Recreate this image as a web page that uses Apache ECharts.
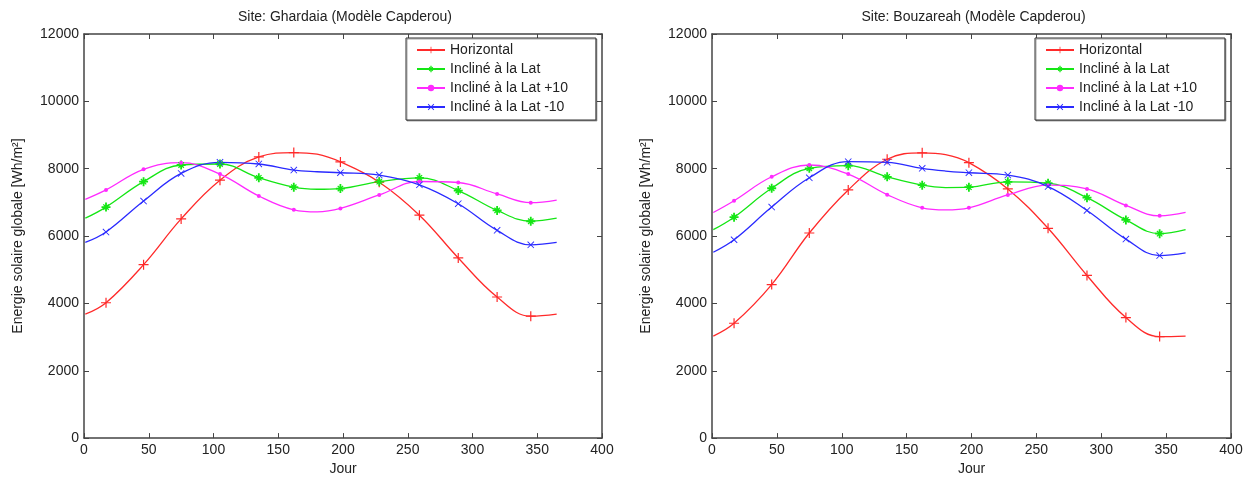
<!DOCTYPE html>
<html>
<head>
<meta charset="utf-8">
<script src="https://cdn.jsdelivr.net/npm/echarts@6/dist/echarts.min.js"></script>
<style>
html,body{margin:0;padding:0;background:#fff;}
#c{width:1256px;height:481px;}
</style>
</head>
<body>
<div id="c"></div>
<script>
// ---- data ----
const days       = [1, 17, 46, 75, 105, 135, 162, 180, 198, 228, 259, 289, 319, 345, 365];
const hasMarker  = [0, 1,  1,  1,  1,   1,   1,   0,   1,   1,   1,   1,   1,   1,   0];
const seriesNames = ['Horizontal', 'Incliné à la Lat', 'Incliné à la Lat +10', 'Incliné à la Lat -10'];
const titles = ['Site: Ghardaia (Modèle Capderou)', 'Site: Bouzareah (Modèle Capderou)'];
const xTicks = [0, 50, 100, 150, 200, 250, 300, 350, 400];
const yTicks = [0, 2000, 4000, 6000, 8000, 10000, 12000];

// Ghardaia
const gh_horizontal = [3680, 4020, 5150, 6510, 7660, 8350, 8480, 8430, 8200, 7600, 6620, 5350, 4190, 3620, 3680];
const gh_lat        = [6530, 6860, 7615, 8110, 8140, 7730, 7450, 7390, 7410, 7615, 7730, 7350, 6760, 6440, 6530];
const gh_latPlus10  = [7090, 7370, 7980, 8180, 7840, 7190, 6780, 6720, 6820, 7220, 7620, 7590, 7250, 6990, 7070];
const gh_latMinus10 = [5810, 6120, 7040, 7860, 8190, 8140, 7960, 7910, 7880, 7810, 7520, 6960, 6170, 5740, 5810];

// Bouzareah
const bz_horizontal = [3030, 3410, 4560, 6090, 7370, 8280, 8470, 8420, 8180, 7400, 6230, 4830, 3580, 3015, 3030];
const bz_lat        = [6190, 6560, 7420, 8010, 8090, 7760, 7510, 7440, 7450, 7610, 7570, 7140, 6480, 6070, 6190];
const bz_latPlus10  = [6700, 7050, 7760, 8110, 7840, 7230, 6840, 6780, 6840, 7220, 7510, 7400, 6910, 6600, 6700];
const bz_latMinus10 = [5520, 5890, 6860, 7730, 8210, 8190, 8010, 7930, 7880, 7810, 7470, 6760, 5910, 5420, 5500];

// ---- styles ----
const colors = ['#ff2a2a', '#14e614', '#ff2aff', '#2a2aff'];
const symbols = [
  'path://M4.4,0H5.6V10H4.4Z M0,4.4H10V5.6H0Z',
  'path://M4,0H6V10H4Z M0,4H10V6H0Z M1.5,2.5L2.5,1.5L8.5,7.5L7.5,8.5Z M7.5,1.5L8.5,2.5L2.5,8.5L1.5,7.5Z',
  'circle',
  'path://M0,0.9L0.9,0L10,9.1L9.1,10Z M9.1,0L10,0.9L0.9,10L0,9.1Z'
];
const symbolSizes = [10, 9, 4, 7];

const gridsDef = [
  {left: 84, top: 34, width: 518, height: 406},
  {left: 712, top: 34, width: 519, height: 406}
];
const sets = [
  [gh_horizontal, gh_lat, gh_latPlus10, gh_latMinus10],
  [bz_horizontal, bz_lat, bz_latPlus10, bz_latMinus10]
];

const axisColor = '#444';
const textColor = '#222';
const fontFamily = 'Liberation Sans, Arial, sans-serif';
const fs = 14;

const grid = [], xAxis = [], yAxis = [], series = [], legend = [], title = [];

gridsDef.forEach((g, gi) => {
  grid.push(Object.assign({containLabel: false}, g));
  const common = {
    axisLine: {show: true, onZero: false, lineStyle: {color: axisColor, width: 1.5}},
    axisTick: {show: true, inside: true, length: 5, lineStyle: {color: axisColor, width: 1}},
    splitLine: {show: false}
  };
  xAxis.push(Object.assign({
    type: 'value', gridIndex: gi, position: 'bottom',
    min: xTicks[0], max: xTicks[xTicks.length - 1], interval: 50,
    name: 'Jour', nameLocation: 'middle', nameGap: 22,
    nameTextStyle: {color: textColor, fontSize: fs, fontFamily},
    axisLabel: {color: textColor, fontSize: fs, fontFamily, margin: 5, formatter: v => String(v)}
  }, common));
  xAxis.push(Object.assign({
    type: 'value', gridIndex: gi, position: 'top',
    min: xTicks[0], max: xTicks[xTicks.length - 1], interval: 50,
    axisLabel: {show: false}
  }, common));
  yAxis.push(Object.assign({
    type: 'value', gridIndex: gi, position: 'left',
    min: yTicks[0], max: yTicks[yTicks.length - 1], interval: 2000,
    name: 'Energie solaire globale [Wh/m²]', nameLocation: 'middle', nameGap: 59,
    nameTextStyle: {color: textColor, fontSize: fs, fontFamily},
    axisLabel: {color: textColor, fontSize: fs, fontFamily, margin: 5, formatter: v => String(v)}
  }, common));
  yAxis.push(Object.assign({
    type: 'value', gridIndex: gi, position: 'right',
    min: yTicks[0], max: yTicks[yTicks.length - 1], interval: 2000,
    axisLabel: {show: false}
  }, common));

  title.push({
    text: titles[gi], left: g.left + g.width / 2 - 3, top: 5, textAlign: 'center',
    textStyle: {color: textColor, fontSize: fs, fontWeight: 'normal', fontFamily}
  });

  sets[gi].forEach((vals, si) => {
    series.push({
      type: 'line', name: seriesNames[si],
      xAxisIndex: gi * 2, yAxisIndex: gi * 2,
      smooth: 0.4,
      symbol: symbols[si], symbolSize: symbolSizes[si],
      showAllSymbol: true,
      lineStyle: {color: colors[si], width: 1.3},
      itemStyle: {color: colors[si]},
      data: days.map((d, i) => {
        const item = {value: [d, vals[i]]};
        if (!hasMarker[i]) item.symbol = 'none';
        return item;
      }),
      animation: false
    });
  });

  legend.push({
    data: seriesNames.slice(),
    orient: 'vertical',
    left: g.left + g.width - 196, top: 38,
    itemWidth: 28, itemHeight: 8, itemGap: 5,
    padding: [5, 28, 6, 10],
    borderColor: '#333', borderWidth: 1, backgroundColor: '#fff',
    shadowColor: 'rgba(0,0,0,0.35)', shadowOffsetX: 1, shadowOffsetY: 1, shadowBlur: 0,
    textStyle: {color: textColor, fontSize: fs, fontFamily},
    selectedMode: false
  });
});

const chart = echarts.init(document.getElementById('c'), null, {renderer: 'canvas'});
chart.setOption({
  backgroundColor: '#fff',
  animation: false,
  title, grid, xAxis, yAxis, legend, series
});
</script>
</body>
</html>
